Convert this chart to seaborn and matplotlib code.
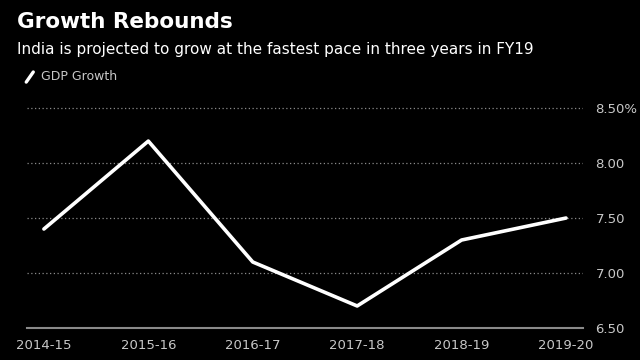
import numpy as np
import pandas as pd
import matplotlib
matplotlib.use('Agg')
import matplotlib.pyplot as plt
from matplotlib.lines import Line2D
import seaborn as sns

# datos del grafico
years = ['2014-15', '2015-16', '2016-17', '2017-18', '2018-19', '2019-20']
gdp_growth = [7.4, 8.2, 7.1, 6.7, 7.3, 7.5]
yticks = [6.5, 7.0, 7.5, 8.0, 8.5]
ytick_labels = ['6.50', '7.00', '7.50', '8.00', '8.50%']

df = pd.DataFrame({'year': years, 'growth': gdp_growth})
df['pos'] = range(len(years))

sns.set_style('dark')
plt.rcParams['font.family'] = ['DejaVu Sans']

fig = plt.figure(figsize=(6.4, 3.6), dpi=100, facecolor='black')
ax = fig.add_axes([0.042, 0.089, 0.869, 0.626])
ax.set_facecolor('black')

sns.lineplot(data=df, x='pos', y='growth', color='white', linewidth=2.6, ax=ax)

ax.set_xlim(-0.163, 5.163)
ax.set_ylim(6.5, 8.55)
ax.set_xticks(df['pos'])
ax.set_xticklabels(years)
ax.set_yticks(yticks)
ax.set_yticklabels(ytick_labels)
ax.yaxis.tick_right()
ax.tick_params(axis='y', length=0, pad=9, labelsize=9.5, colors='#c8c8c8')
ax.tick_params(axis='x', length=5, width=1, direction='out', color='#8a8a8a',
               pad=3, labelsize=9.5, labelcolor='#c8c8c8')
for yv in yticks[1:]:
    ax.axhline(yv, color='#8a8a8a', linestyle=(0, (1, 2)), linewidth=0.9, zorder=0)
ax.grid(False)
for s in ['top', 'right', 'left']:
    ax.spines[s].set_visible(False)
ax.spines['bottom'].set_color('#8a8a8a')
ax.spines['bottom'].set_linewidth(1.5)
ax.set_xlabel('')
ax.set_ylabel('')

fig.text(0.026, 0.94, 'Growth Rebounds', color='white', fontsize=15.5,
         fontweight='bold', va='center', ha='left')
fig.text(0.026, 0.862, 'India is projected to grow at the fastest pace in three years in FY19',
         color='white', fontsize=11, va='center', ha='left')
# icono de leyenda
fig.add_artist(Line2D([0.041, 0.052], [0.772, 0.8], color='white', linewidth=2.4,
                      transform=fig.transFigure))
fig.text(0.064, 0.788, 'GDP Growth', color='#c8c8c8', fontsize=9, va='center', ha='left')

fig.savefig('out.png', dpi=100, facecolor='black')
